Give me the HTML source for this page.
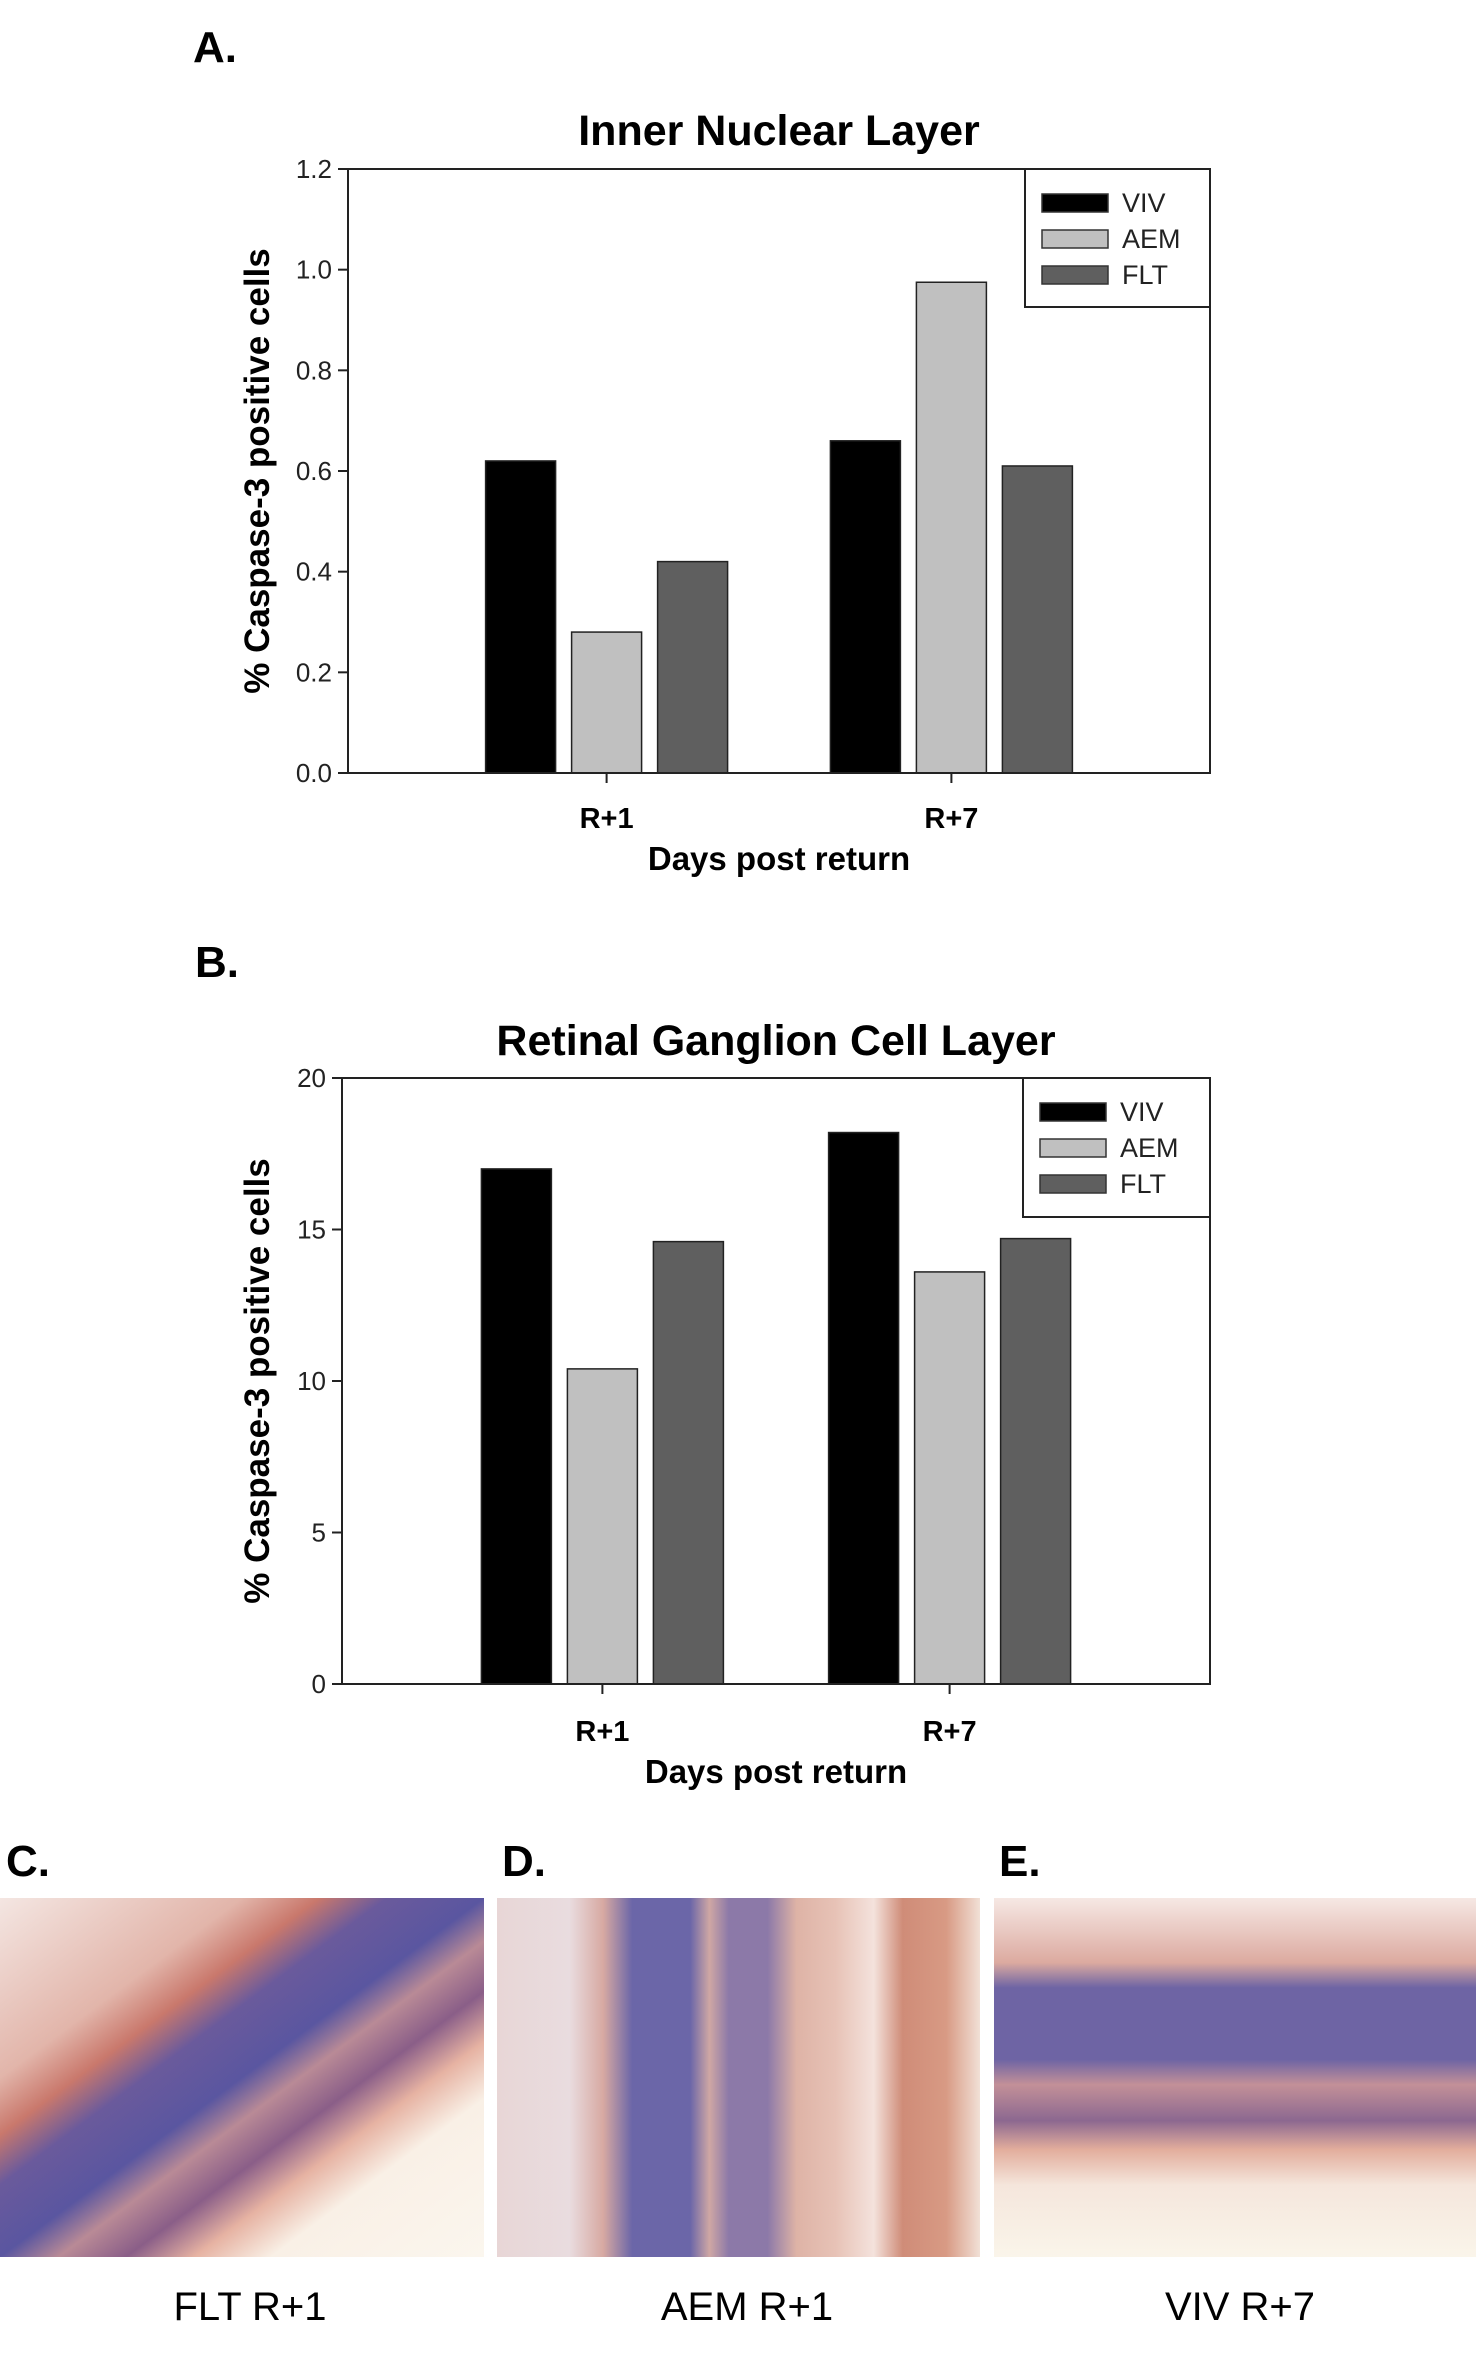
<!DOCTYPE html>
<html><head><meta charset="utf-8"><style>
html,body{margin:0;padding:0;background:#fff;}
svg{display:block;font-family:"Liberation Sans",Arial,sans-serif;}
</style></head><body>
<svg id="page" width="1476" height="2371" viewBox="0 0 1476 2371">
<defs>
<linearGradient id="gC" x1="0" y1="0" x2="1" y2="1">
<stop offset="0" stop-color="#f4e6e2"/><stop offset="0.25" stop-color="#e2b5aa"/><stop offset="0.33" stop-color="#c9786c"/><stop offset="0.40" stop-color="#6a5a9c"/><stop offset="0.50" stop-color="#5a56a0"/><stop offset="0.56" stop-color="#b98a96"/><stop offset="0.63" stop-color="#8a5e88"/><stop offset="0.70" stop-color="#e6b2a2"/><stop offset="0.78" stop-color="#f9f0e6"/><stop offset="1" stop-color="#fbf6ee"/>
</linearGradient>
<linearGradient id="gD" x1="0" y1="0" x2="1" y2="0">
<stop offset="0" stop-color="#e8d6d6"/><stop offset="0.15" stop-color="#e9dcdf"/><stop offset="0.22" stop-color="#d7a9a2"/><stop offset="0.28" stop-color="#6b66a8"/><stop offset="0.40" stop-color="#6b66a8"/><stop offset="0.44" stop-color="#cfa7a4"/><stop offset="0.48" stop-color="#8c79a8"/><stop offset="0.56" stop-color="#8c79a8"/><stop offset="0.62" stop-color="#deb3a6"/><stop offset="0.70" stop-color="#e7c2b6"/><stop offset="0.78" stop-color="#f4e2dc"/><stop offset="0.84" stop-color="#cf8c78"/><stop offset="0.93" stop-color="#d89a84"/><stop offset="1" stop-color="#f1e0d6"/>
</linearGradient>
<linearGradient id="gE" x1="0" y1="0" x2="0" y2="1">
<stop offset="0" stop-color="#f6e8e4"/><stop offset="0.18" stop-color="#dcaaa0"/><stop offset="0.25" stop-color="#6e64a4"/><stop offset="0.45" stop-color="#6e64a4"/><stop offset="0.52" stop-color="#c39098"/><stop offset="0.62" stop-color="#8c6890"/><stop offset="0.70" stop-color="#e2ad9c"/><stop offset="0.80" stop-color="#f5e6dc"/><stop offset="1" stop-color="#faf5ea"/>
</linearGradient>
</defs>
<g id="chartA"></g>
<g id="chartB"></g>

<g font-weight="bold" font-size="44">
<text x="6" y="1876">C.</text>
<text x="502" y="1876">D.</text>
<text x="999" y="1876">E.</text>
<rect x="0" y="1898" width="484" height="359" fill="url(#gC)"/>
<rect x="497" y="1898" width="483" height="359" fill="url(#gD)"/>
<rect x="994" y="1898" width="482" height="359" fill="url(#gE)"/>
</g>
<g font-size="40" text-anchor="middle">
<text x="250" y="2320">FLT R+1</text>
<text x="747" y="2320">AEM R+1</text>
<text x="1240" y="2320">VIV R+7</text>
</g>
</svg>
<script>
const categories = ["R+1", "R+7"];
const seriesNames = ["VIV", "AEM", "FLT"];
const seriesColors = ["#000000", "#c0c0c0", "#5f5f5f"];
const valuesA_VIV = [0.62, 0.66];
const valuesA_AEM = [0.28, 0.975];
const valuesA_FLT = [0.42, 0.61];
const ticksA = ["0.0", "0.2", "0.4", "0.6", "0.8", "1.0", "1.2"];
const valuesB_VIV = [17.0, 18.2];
const valuesB_AEM = [10.4, 13.6];
const valuesB_FLT = [14.6, 14.7];
const ticksB = ["0", "5", "10", "15", "20"];
const NS = "http://www.w3.org/2000/svg";
function mk(parent, tag, attrs, text) {
  const e = document.createElementNS(NS, tag);
  for (const k in attrs) e.setAttribute(k, attrs[k]);
  if (text !== undefined) e.textContent = text;
  parent.appendChild(e);
  return e;
}
function drawChart(g, cfg, series, ticks) {
  const L = cfg.left, R = cfg.right, T = cfg.top, B = cfg.bottom;
  const tmax = parseFloat(ticks[ticks.length - 1]);
  const y = v => B - (v / tmax) * (B - T);
  const cx = i => L + (R - L) * (0.30 + 0.40 * i / (categories.length - 1));
  const bw = cfg.barW, gap = cfg.gap;
  let t = mk(g, "text", {x: cfg.letterX, y: cfg.letterY, "font-size": 44, "font-weight": "bold"}, cfg.letter);
  
  
  t = mk(g, "text", {x: (L + R) / 2, y: cfg.titleY, "font-size": 43, "font-weight": "bold", "text-anchor": "middle"}, cfg.title);
  
  
  series.forEach((vals, s) => {
    vals.forEach((v, i) => {
      const x = cx(i) + (s - 1) * (bw + gap) - bw / 2;
      const r = mk(g, "rect", {x: x, y: y(v), width: bw, height: B - y(v), fill: seriesColors[s], stroke: "#222", "stroke-width": 1.5});
      
      
    });
  });
  const f = mk(g, "rect", {x: L, y: T, width: R - L, height: B - T, fill: "none", stroke: "#222", "stroke-width": 2});
  
  
  ticks.forEach(tk => {
    const v = parseFloat(tk);
    const yy = y(v);
    mk(g, "line", {x1: L - 10, x2: L, y1: yy, y2: yy, stroke: "#222", "stroke-width": 2});
    const tl = mk(g, "text", {x: L - 16, y: yy + 9, "font-size": 26, "text-anchor": "end", fill: "#222"}, tk);
    
    
  });
  categories.forEach((c, i) => {
    mk(g, "line", {x1: cx(i), x2: cx(i), y1: B, y2: B + 10, stroke: "#222", "stroke-width": 2});
    const tl = mk(g, "text", {x: cx(i), y: cfg.catY, "font-size": 29, "font-weight": "bold", "text-anchor": "middle"}, c);
    
    
  });
  t = mk(g, "text", {x: (L + R) / 2, y: cfg.xTitleY, "font-size": 33, "font-weight": "bold", "text-anchor": "middle"}, "Days post return");
  
  
  const ym = (T + B) / 2;
  t = mk(g, "text", {x: cfg.yTitleX, y: ym, "font-size": 35, "font-weight": "bold", "text-anchor": "middle", transform: "rotate(-90 " + cfg.yTitleX + " " + ym + ")"}, "% Caspase-3 positive cells");
  
  
  const lg = mk(g, "g", {});
  
  
  mk(lg, "rect", {x: cfg.legX, y: T, width: R - cfg.legX, height: cfg.legH, fill: "#fff", stroke: "#222", "stroke-width": 2});
  seriesNames.forEach((n, s) => {
    const yy = T + 25 + s * 36;
    const e = mk(lg, "g", {});
    
    
    mk(e, "rect", {x: cfg.legX + 17, y: yy, width: 66, height: 18, fill: seriesColors[s], stroke: "#333", "stroke-width": 1.5});
    mk(e, "text", {x: cfg.legX + 97, y: yy + 18, "font-size": 27, fill: "#222"}, n);
  });
}
drawChart(document.getElementById("chartA"),
  {left: 348, right: 1210, top: 169, bottom: 773, barW: 70, gap: 16, letter: "A.", letterX: 193, letterY: 62,
   title: "Inner Nuclear Layer", titleY: 145, catY: 828, xTitleY: 870, yTitleX: 269, legX: 1025, legH: 138},
  [valuesA_VIV, valuesA_AEM, valuesA_FLT], ticksA);
drawChart(document.getElementById("chartB"),
  {left: 342, right: 1210, top: 1078, bottom: 1684, barW: 70, gap: 16, letter: "B.", letterX: 195, letterY: 977,
   title: "Retinal Ganglion Cell Layer", titleY: 1055, catY: 1741, xTitleY: 1783, yTitleX: 269, legX: 1023, legH: 139},
  [valuesB_VIV, valuesB_AEM, valuesB_FLT], ticksB);
</script>
</body></html>
